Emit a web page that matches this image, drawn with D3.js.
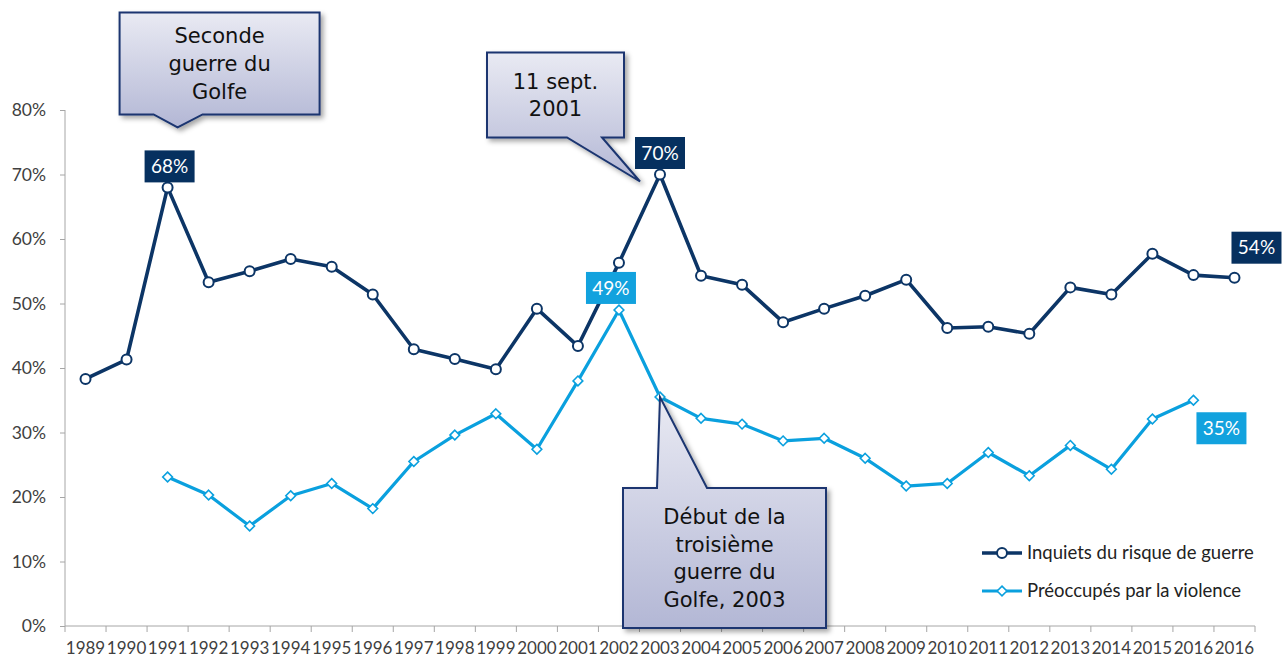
<!DOCTYPE html>
<html>
<head>
<meta charset="utf-8">
<script src="https://cdn.jsdelivr.net/npm/d3@7/dist/d3.min.js"></script>
<style>
  html, body { margin: 0; padding: 0; background: #fff; }
  svg { display: block; }
</style>
</head>
<body>
<svg id="chart" width="1282" height="659"></svg>
<script>
// Survey years (the last year appears twice on the axis)
const years = ["1989","1990","1991","1992","1993","1994","1995","1996","1997","1998",
  "1999","2000","2001","2002","2003","2004","2005","2006","2007","2008",
  "2009","2010","2011","2012","2013","2014","2015","2016","2016"];

// Share (%) worried about the risk of war
const inquiets = [38.3, 41.3, 68, 53.3, 55.0, 56.9, 55.7, 51.4, 42.9, 41.4,
  39.8, 49.2, 43.4, 56.3, 70, 54.3, 52.9, 47.1, 49.2, 51.2,
  53.7, 46.2, 46.4, 45.3, 52.5, 51.4, 57.7, 54.4, 54];

// Share (%) concerned by violence
const preoccupes = [null, null, 23.1, 20.3, 15.5, 20.2, 22.1, 18.2, 25.5, 29.6,
  32.9, 27.4, 38.0, 49, 35.5, 32.2, 31.3, 28.7, 29.1, 26.0,
  21.7, 22.1, 26.9, 23.3, 28.0, 24.3, 32.1, 35, null];

const yTicks = [0, 10, 20, 30, 40, 50, 60, 70, 80];

const seriesNames = ["Inquiets du risque de guerre", "Préoccupés par la violence"];

// Value labels: series index, point index, box offset from the point
const valueLabels = [
  { s: 0, i: 2,  dx: 2,   dy: -21 },
  { s: 0, i: 14, dx: 0,   dy: -21.5 },
  { s: 1, i: 13, dx: -8,  dy: -22 },
  { s: 0, i: 28, dx: 22,  dy: -30 },
  { s: 1, i: 27, dx: 28,  dy: 28 }
];

// Callout annotations anchored on a point of a series
const callouts = [
  { s: 0, i: 2, lines: ["Seconde", "guerre du", "Golfe"],
    tip: [10, -60], box: [-58, 142, -115, -13], base: [-24, 25], side: "bottom" },
  { s: 0, i: 14, lines: ["11 sept.", "2001"],
    tip: [-20, 7], box: [-153, -16, -129, -44], base: [-73, -38], side: "bottom" },
  { s: 1, i: 14, lines: ["Début de la", "troisième", "guerre du", "Golfe, 2003"],
    tip: [0, 0], box: [-37, 166, 91, 231], base: [-3, 47], side: "top" }
];

const colors = ["#0c3566", "#0aa0de"];
const boxColors = ["#06305f", "#12a2de"];

const svg = d3.select("#chart");
const margin = { left: 65, right: 27, top: 110, bottom: 33 };
const W = 1282, H = 659;

const x = d3.scaleBand()
  .domain(d3.range(years.length))
  .range([margin.left, W - margin.right])
  .paddingInner(0).paddingOuter(0);
const y = d3.scaleLinear().domain([0, 80]).range([H - margin.bottom, margin.top]);
const cx = i => x(i) + x.bandwidth() / 2;

const defs = svg.append("defs");
const grad = defs.append("linearGradient").attr("id", "calloutFill")
  .attr("x1", 0).attr("y1", 0).attr("x2", 0).attr("y2", 1);
grad.append("stop").attr("offset", "0%").attr("stop-color", "#e9eaf3");
grad.append("stop").attr("offset", "100%").attr("stop-color", "#b3b7d5");
const shadow = defs.append("filter").attr("id", "shadow")
  .attr("x", "-10%").attr("y", "-10%").attr("width", "130%").attr("height", "130%");
shadow.append("feDropShadow").attr("dx", 3).attr("dy", 3)
  .attr("stdDeviation", 2.5).attr("flood-color", "#000").attr("flood-opacity", 0.35);

const axisFont = "Lato, 'Open Sans', sans-serif";

// Y axis
const yAxis = svg.append("g")
  .attr("transform", `translate(${margin.left},0)`)
  .call(d3.axisLeft(y).tickValues(yTicks).tickSize(5).tickPadding(14)
    .tickFormat(d => d + "%"));
yAxis.select(".domain").attr("stroke", "#a6a6a6").attr("d", `M0,${y(0)}V${y(80)}`);
yAxis.selectAll(".tick line").attr("stroke", "#a6a6a6");
yAxis.selectAll(".tick text").attr("fill", "#404040")
  .style("font-family", axisFont).style("font-size", "17.5px");

// X axis with ticks between categories
const xAxisG = svg.append("g").attr("transform", `translate(0,${y(0)})`);
xAxisG.append("line").attr("x1", x.range()[0]).attr("x2", x.range()[1])
  .attr("stroke", "#a6a6a6");
xAxisG.selectAll(".xt").data(d3.range(years.length + 1)).join("line")
  .attr("x1", i => x.range()[0] + i * x.bandwidth())
  .attr("x2", i => x.range()[0] + i * x.bandwidth())
  .attr("y1", 0).attr("y2", 6).attr("stroke", "#a6a6a6");
xAxisG.selectAll(".xl").data(years).join("text")
  .attr("x", (d, i) => cx(i)).attr("y", 22).attr("dy", "0.35em")
  .attr("text-anchor", "middle").attr("fill", "#404040")
  .style("font-family", axisFont).style("font-size", "17px")
  .text(d => d);

// Lines
const data = [inquiets, preoccupes];
const line = d3.line().defined(d => d != null).x((d, i) => cx(i)).y(d => y(d));
data.forEach((s, k) => {
  svg.append("path").datum(s)
    .attr("fill", "none").attr("stroke", colors[k])
    .attr("stroke-width", k === 0 ? 3.6 : 3.2)
    .attr("stroke-linejoin", "round")
    .attr("d", line);
});

// Markers
svg.append("g").selectAll("circle")
  .data(inquiets.map((v, i) => ({ v, i })).filter(d => d.v != null))
  .join("circle")
  .attr("cx", d => cx(d.i)).attr("cy", d => y(d.v)).attr("r", 5)
  .attr("fill", "#fff").attr("stroke", colors[0]).attr("stroke-width", 2);
const diamond = d3.symbol().type(d3.symbolDiamond2).size(60);
svg.append("g").selectAll("path")
  .data(preoccupes.map((v, i) => ({ v, i })).filter(d => d.v != null))
  .join("path")
  .attr("transform", d => `translate(${cx(d.i)},${y(d.v)})`)
  .attr("d", diamond)
  .attr("fill", "#fff").attr("stroke", colors[1]).attr("stroke-width", 1.6);

// Value labels
valueLabels.forEach(l => {
  const v = data[l.s][l.i];
  const px = cx(l.i) + l.dx, py = y(v) + l.dy;
  const g = svg.append("g").attr("transform", `translate(${px},${py})`);
  g.append("rect").attr("x", -25).attr("y", -16).attr("width", 50).attr("height", 32)
    .attr("fill", boxColors[l.s]);
  g.append("text").attr("text-anchor", "middle").attr("dy", "0.35em")
    .attr("fill", "#fff").style("font-family", axisFont).style("font-size", "19px")
    .text(Math.round(v) + "%");
});

// Callouts
callouts.forEach(c => {
  const v = data[c.s][c.i];
  const tx = cx(c.i) + c.tip[0], ty = y(v) + c.tip[1];
  const [l, r, t, b] = [tx + c.box[0], tx + c.box[1], ty + c.box[2], ty + c.box[3]];
  const b1 = tx + c.base[0], b2 = tx + c.base[1];
  const p = d3.path();
  p.moveTo(l, t);
  if (c.side === "top") {
    p.lineTo(b1, t); p.lineTo(tx, ty); p.lineTo(b2, t);
  }
  p.lineTo(r, t); p.lineTo(r, b);
  if (c.side === "bottom") {
    p.lineTo(b2, b); p.lineTo(tx, ty); p.lineTo(b1, b);
  }
  p.lineTo(l, b); p.closePath();
  svg.append("path").attr("d", p.toString())
    .attr("fill", "url(#calloutFill)").attr("stroke", "#1a3570")
    .attr("stroke-width", 2).attr("stroke-linejoin", "miter")
    .attr("filter", "url(#shadow)");
  const lh = 27.8;
  const midY = (t + b) / 2;
  const startY = midY - (c.lines.length - 1) * lh / 2;
  const txt = svg.append("text").attr("text-anchor", "middle")
    .attr("fill", "#111").style("font-family", "'DejaVu Sans', Verdana, sans-serif")
    .style("font-size", "21px");
  c.lines.forEach((s, k) => {
    txt.append("tspan").attr("x", (l + r) / 2).attr("y", startY + k * lh)
      .attr("dy", "0.36em").text(s);
  });
});

// Legend
const legend = svg.append("g").attr("transform", "translate(982,553)");
seriesNames.forEach((name, k) => {
  const g = legend.append("g").attr("transform", `translate(0,${k * 38})`);
  g.append("line").attr("x1", 0).attr("x2", 40).attr("stroke", colors[k])
    .attr("stroke-width", k === 0 ? 3.6 : 3.2);
  if (k === 0) {
    g.append("circle").attr("cx", 20).attr("r", 5).attr("fill", "#fff")
      .attr("stroke", colors[0]).attr("stroke-width", 2);
  } else {
    g.append("path").attr("transform", "translate(20,0)").attr("d", diamond)
      .attr("fill", "#fff").attr("stroke", colors[1]).attr("stroke-width", 1.6);
  }
  g.append("text").attr("x", 45).attr("dy", "0.35em").attr("fill", "#222")
    .style("font-family", axisFont).style("font-size", "18.5px").text(name);
});
</script>
</body>
</html>
